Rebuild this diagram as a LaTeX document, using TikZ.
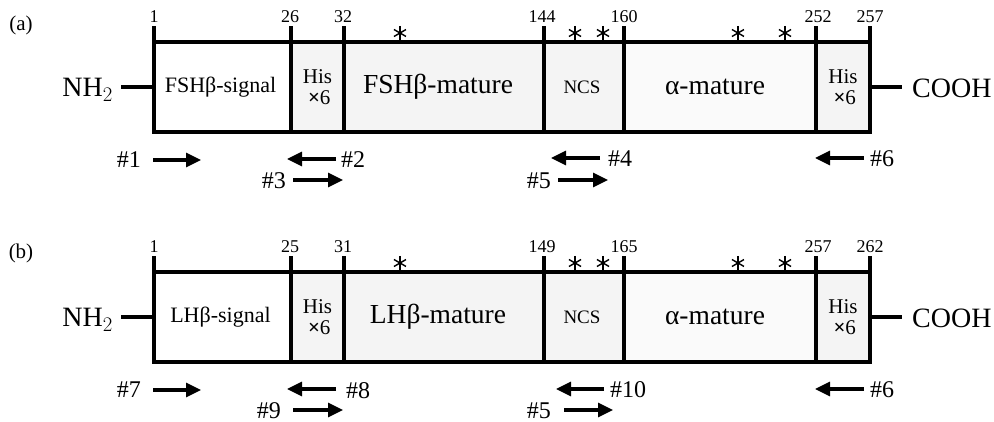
\documentclass[tikz,border=0pt]{standalone}
\usepackage{fontspec}
\setmainfont{Liberation Serif}
\usetikzlibrary{arrows.meta}
\definecolor{segfill}{HTML}{F4F4F4}
\definecolor{alphafill}{HTML}{FAFAFA}
\tikzset{
  seg/.style={draw, line width=3.1pt, inner sep=0pt, outer sep=0pt, minimum height=90pt, anchor=north west, align=center},
  graybox/.style={seg, fill=segfill},
  ticklab/.style={font=\fontsize{18}{18}\selectfont, inner sep=0pt},
  tickline/.style={line width=3.1pt},
  astx/.style={circle, inner sep=0pt, minimum size=15pt,
    path picture={\foreach \ang in {90,30,150}{
      \draw[line width=1.4pt] (path picture bounding box.center) ++(\ang:7pt) -- ++(\ang+180:14pt);}}},
  primer/.style={line width=3.2pt, -{Triangle[length=15pt,width=14pt]}},
  plab/.style={font=\fontsize{24}{24}\selectfont, inner sep=0pt},
  term/.style={font=\fontsize{28}{28}\selectfont, inner sep=0pt},
  bigtxt/.style={font=\fontsize{27.5}{27.5}\selectfont},
  smalltxt/.style={font=\fontsize{22}{22}\selectfont},
  ncstxt/.style={font=\fontsize{19}{19}\selectfont},
  histxt/.style={font=\fontsize{21}{21}\selectfont, align=center},
  panlab/.style={font=\fontsize{21}{21}\selectfont, inner sep=0pt},
  conn/.style={line width=3.1pt},
}
\begin{document}
\begin{tikzpicture}[x=1pt,y=-1pt]
\useasboundingbox (0,0) rectangle (994,422);
% ---------------- panel (a) ----------------
\begin{scope}[name prefix=a-]
\node[panlab] (lab) at (21,25) {(a)};
\node[seg] (sig) at (154,42) [minimum width=137pt] {};
\node[graybox] (his1) at (291,42) [minimum width=53pt] {};
\node[graybox] (mat) at (344,42) [minimum width=200pt] {};
\node[graybox] (ncs) at (544,42) [minimum width=80pt] {};
\node[seg, fill=alphafill] (alp) at (624,42) [minimum width=192pt] {};
\node[graybox] (his2) at (816,42) [minimum width=54pt] {};
\node[smalltxt] at ([xshift=-2pt]sig.center) {FSHβ-signal};
\node[histxt] at (his1.center) {His\\\,\textbf{×}6};
\node[bigtxt] at ([xshift=-6pt]mat.center) {FSHβ-mature};
\node[ncstxt] at ([xshift=-2pt]ncs.center) {NCS};
\node[bigtxt] at ([xshift=-5pt]alp.center) {α-mature};
\node[histxt] at (his2.center) {His\\\,\textbf{×}6};
% ticks
\node[ticklab] (t1) at (154,17) {1};
\node[ticklab] (t2) at (290,17) {26};
\node[ticklab] (t3) at (343,17) {32};
\node[ticklab] (t4) at (542,17) {144};
\node[ticklab] (t5) at (624,17) {160};
\node[ticklab] (t6) at (818,17) {252};
\node[ticklab] (t7) at (870,17) {257};
\draw[tickline] (sig.north west) -- ++(0,-16);
\draw[tickline] (his1.north west) -- ++(0,-16);
\draw[tickline] (mat.north west) -- ++(0,-16);
\draw[tickline] (ncs.north west) -- ++(0,-16);
\draw[tickline] (alp.north west) -- ++(0,-16);
\draw[tickline] (his2.north west) -- ++(0,-16);
\draw[tickline] (his2.north east) -- ++(0,-16);
% asterisks
\node[astx] (s1) at (400,33) {};
\node[astx] (s2) at (575,33) {};
\node[astx] (s3) at (603,33) {};
\node[astx] (s4) at (738,33) {};
\node[astx] (s5) at (785,33) {};
% termini
\node[term, anchor=east] (nh) at (113,90) {NH$_2$};
\node[term, anchor=west] (cooh) at (912,88) {COOH};
\draw[conn] ([xshift=8pt]nh.east |- sig.west) -- (sig.west);
\draw[conn] (his2.east) -- ([xshift=-10pt]cooh.west |- his2.east);
% primers
\node[plab, anchor=east] (l1) at (141,160) {\#1};
\coordinate (p1s) at (153,160); \coordinate (p1e) at (201,160);
\draw[primer] (p1s) -- (p1e);
\coordinate (p2s) at (336,159); \coordinate (p2e) at (287,159);
\draw[primer] (p2s) -- (p2e);
\node[plab, anchor=west] (l2) at (341,160) {\#2};
\node[plab, anchor=east] (l3) at (286,181) {\#3};
\coordinate (p3s) at (293,180); \coordinate (p3e) at (343,180);
\draw[primer] (p3s) -- (p3e);
\coordinate (p4s) at (600,158); \coordinate (p4e) at (551,158);
\draw[primer] (p4s) -- (p4e);
\node[plab, anchor=west] (l4) at (608,159) {\#4};
\node[plab, anchor=east] (l5) at (551,181) {\#5};
\coordinate (p5s) at (558,180); \coordinate (p5e) at (608,180);
\draw[primer] (p5s) -- (p5e);
\coordinate (p6s) at (864,158); \coordinate (p6e) at (815,158);
\draw[primer] (p6s) -- (p6e);
\node[plab, anchor=west] (l6) at (870,159) {\#6};
\end{scope}
% ---------------- panel (b) ----------------
\begin{scope}[name prefix=b-, shift={(0,230)}]
\node[panlab] (lab) at (21,23) {(b)};
\node[seg] (sig) at (154,42) [minimum width=137pt] {};
\node[graybox] (his1) at (291,42) [minimum width=53pt] {};
\node[graybox] (mat) at (344,42) [minimum width=200pt] {};
\node[graybox] (ncs) at (544,42) [minimum width=80pt] {};
\node[seg, fill=alphafill] (alp) at (624,42) [minimum width=192pt] {};
\node[graybox] (his2) at (816,42) [minimum width=54pt] {};
\node[smalltxt] at ([xshift=-2pt]sig.center) {LHβ-signal};
\node[histxt] at (his1.center) {His\\\,\textbf{×}6};
\node[bigtxt] at ([xshift=-6pt]mat.center) {LHβ-mature};
\node[ncstxt] at ([xshift=-2pt]ncs.center) {NCS};
\node[bigtxt] at ([xshift=-5pt]alp.center) {α-mature};
\node[histxt] at (his2.center) {His\\\,\textbf{×}6};
% ticks
\node[ticklab] (t1) at (154,17) {1};
\node[ticklab] (t2) at (290,17) {25};
\node[ticklab] (t3) at (343,17) {31};
\node[ticklab] (t4) at (542,17) {149};
\node[ticklab] (t5) at (624,17) {165};
\node[ticklab] (t6) at (818,17) {257};
\node[ticklab] (t7) at (870,17) {262};
\draw[tickline] (sig.north west) -- ++(0,-16);
\draw[tickline] (his1.north west) -- ++(0,-16);
\draw[tickline] (mat.north west) -- ++(0,-16);
\draw[tickline] (ncs.north west) -- ++(0,-16);
\draw[tickline] (alp.north west) -- ++(0,-16);
\draw[tickline] (his2.north west) -- ++(0,-16);
\draw[tickline] (his2.north east) -- ++(0,-16);
% asterisks
\node[astx] (s1) at (400,33) {};
\node[astx] (s2) at (575,33) {};
\node[astx] (s3) at (603,33) {};
\node[astx] (s4) at (738,33) {};
\node[astx] (s5) at (785,33) {};
% termini
\node[term, anchor=east] (nh) at (113,90) {NH$_2$};
\node[term, anchor=west] (cooh) at (912,88) {COOH};
\draw[conn] ([xshift=8pt]nh.east |- sig.west) -- (sig.west);
\draw[conn] (his2.east) -- ([xshift=-10pt]cooh.west |- his2.east);
% primers
\node[plab, anchor=east] (l7) at (141,160) {\#7};
\coordinate (p7s) at (153,160); \coordinate (p7e) at (201,160);
\draw[primer] (p7s) -- (p7e);
\coordinate (p8s) at (336,159); \coordinate (p8e) at (287,159);
\draw[primer] (p8s) -- (p8e);
\node[plab, anchor=west] (l8) at (346,161) {\#8};
\node[plab, anchor=east] (l9) at (281,181) {\#9};
\coordinate (p9s) at (293,180); \coordinate (p9e) at (343,180);
\draw[primer] (p9s) -- (p9e);
\coordinate (p10s) at (604,159); \coordinate (p10e) at (556,159);
\draw[primer] (p10s) -- (p10e);
\node[plab, anchor=west] (l10) at (610,160) {\#10};
\node[plab, anchor=east] (l5) at (551,181) {\#5};
\coordinate (p5s) at (564,180); \coordinate (p5e) at (613,180);
\draw[primer] (p5s) -- (p5e);
\coordinate (p6s) at (864,159); \coordinate (p6e) at (815,159);
\draw[primer] (p6s) -- (p6e);
\node[plab, anchor=west] (l6) at (870,160) {\#6};
\end{scope}
\end{tikzpicture}
\end{document}
